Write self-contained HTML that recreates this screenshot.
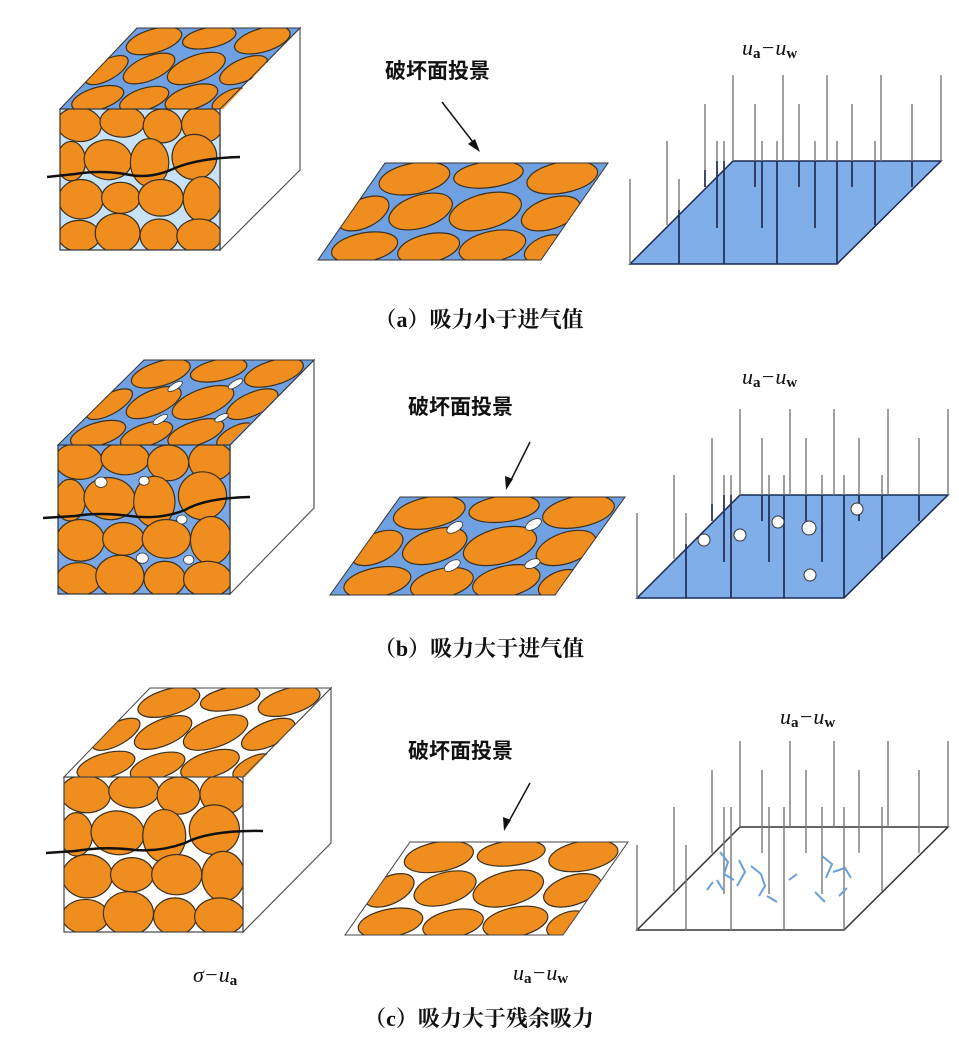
<!DOCTYPE html>
<html><head><meta charset="utf-8">
<style>
html,body{margin:0;padding:0;background:#fff;}
svg{display:block;}
.cap{font-family:"Liberation Serif","Noto Serif CJK SC",serif;font-weight:bold;font-size:22px;fill:#111;}
.lbl{font-family:"Liberation Sans","Noto Sans CJK SC",sans-serif;font-weight:bold;font-size:21px;fill:#111;}
.u{font-family:"Liberation Serif",serif;font-style:italic;font-size:22px;fill:#111;}
.sub{font-family:"Liberation Serif",serif;font-weight:bold;font-style:normal;font-size:15px;}
</style></head>
<body>
<svg width="959" height="1040" viewBox="0 0 959 1040" xmlns="http://www.w3.org/2000/svg">
<defs>
 <g id="gr" fill="#ef8e1e" stroke="#3a3020" stroke-width="1.2">
  <ellipse vector-effect="non-scaling-stroke" cx="12" cy="11" rx="14" ry="12" transform="rotate(10 12 11)"/>
  <ellipse vector-effect="non-scaling-stroke" cx="39" cy="9" rx="14" ry="11"/>
  <ellipse vector-effect="non-scaling-stroke" cx="64" cy="12" rx="12" ry="12"/>
  <ellipse vector-effect="non-scaling-stroke" cx="89" cy="11" rx="13" ry="13" transform="rotate(-15 89 11)"/>
  <ellipse vector-effect="non-scaling-stroke" cx="7" cy="37" rx="9" ry="14"/>
  <ellipse vector-effect="non-scaling-stroke" cx="30" cy="36" rx="15" ry="14" transform="rotate(20 30 36)"/>
  <ellipse vector-effect="non-scaling-stroke" cx="56" cy="38" rx="12" ry="17"/>
  <ellipse vector-effect="non-scaling-stroke" cx="84" cy="34" rx="14" ry="16"/>
  <ellipse vector-effect="non-scaling-stroke" cx="13" cy="64" rx="14" ry="14"/>
  <ellipse vector-effect="non-scaling-stroke" cx="38" cy="63" rx="12" ry="11"/>
  <ellipse vector-effect="non-scaling-stroke" cx="63" cy="63" rx="14" ry="13"/>
  <ellipse vector-effect="non-scaling-stroke" cx="89" cy="64" rx="12" ry="16"/>
  <ellipse vector-effect="non-scaling-stroke" cx="12" cy="90" rx="13" ry="11"/>
  <ellipse vector-effect="non-scaling-stroke" cx="36" cy="88" rx="14" ry="14"/>
  <ellipse vector-effect="non-scaling-stroke" cx="62" cy="90" rx="12" ry="12"/>
  <ellipse vector-effect="non-scaling-stroke" cx="87" cy="90" rx="14" ry="12"/>
 </g>
 <g id="gt" fill="#ef8e1e" stroke="#3a3020" stroke-width="1.2">
  <ellipse vector-effect="non-scaling-stroke" cx="18" cy="16" rx="15" ry="17"/>
  <ellipse vector-effect="non-scaling-stroke" cx="50" cy="12" rx="15" ry="14"/>
  <ellipse vector-effect="non-scaling-stroke" cx="84" cy="15" rx="15" ry="17"/>
  <ellipse vector-effect="non-scaling-stroke" cx="6" cy="52" rx="10" ry="18"/>
  <ellipse vector-effect="non-scaling-stroke" cx="31" cy="50" rx="13" ry="19"/>
  <ellipse vector-effect="non-scaling-stroke" cx="60" cy="50" rx="15" ry="20"/>
  <ellipse vector-effect="non-scaling-stroke" cx="90" cy="52" rx="12" ry="18"/>
  <ellipse vector-effect="non-scaling-stroke" cx="17" cy="87" rx="14" ry="16"/>
  <ellipse vector-effect="non-scaling-stroke" cx="46" cy="88" rx="13" ry="16"/>
  <ellipse vector-effect="non-scaling-stroke" cx="74" cy="86" rx="14" ry="17"/>
  <ellipse vector-effect="non-scaling-stroke" cx="98" cy="88" rx="8" ry="14"/>
 </g>
 <g id="holes" fill="#fff" stroke="#333" stroke-width="0.8">
  <circle vector-effect="non-scaling-stroke" cx="25" cy="25" r="3.5"/>
  <circle vector-effect="non-scaling-stroke" cx="72" cy="50" r="3"/>
  <circle vector-effect="non-scaling-stroke" cx="49" cy="76" r="3.5"/>
  <circle vector-effect="non-scaling-stroke" cx="76" cy="77" r="3"/>
  <circle vector-effect="non-scaling-stroke" cx="50" cy="24" r="3"/>
 </g>
 <g id="holest" fill="#fff" stroke="#333" stroke-width="0.8">
  <ellipse vector-effect="non-scaling-stroke" cx="34" cy="31" rx="3" ry="6"/>
  <ellipse vector-effect="non-scaling-stroke" cx="68" cy="28" rx="3" ry="6"/>
  <ellipse vector-effect="non-scaling-stroke" cx="45" cy="70" rx="3" ry="6"/>
  <ellipse vector-effect="non-scaling-stroke" cx="80" cy="68" rx="3" ry="5"/>
 </g>
 <clipPath id="sq"><rect x="0" y="0" width="100" height="100"/></clipPath>
 <g id="lines">
  <g stroke="#777" stroke-width="1.4">
   <line x1="630" y1="179" x2="630" y2="264"/><line x1="667" y1="141" x2="667" y2="225"/>
   <line x1="679" y1="179" x2="679" y2="264"/><line x1="705" y1="104" x2="705" y2="187"/>
   <line x1="717" y1="141" x2="717" y2="228"/><line x1="724" y1="141" x2="724" y2="264"/>
   <line x1="733" y1="75" x2="733" y2="161"/><line x1="755" y1="104" x2="755" y2="187"/>
   <line x1="762" y1="141" x2="762" y2="228"/><line x1="777" y1="141" x2="777" y2="264"/>
   <line x1="783" y1="75" x2="783" y2="161"/><line x1="799" y1="104" x2="799" y2="187"/>
   <line x1="815" y1="141" x2="815" y2="228"/><line x1="827" y1="75" x2="827" y2="161"/>
   <line x1="837" y1="141" x2="837" y2="264"/><line x1="852" y1="104" x2="852" y2="187"/>
   <line x1="875" y1="141" x2="875" y2="225"/><line x1="881" y1="75" x2="881" y2="161"/>
   <line x1="912" y1="104" x2="912" y2="187"/><line x1="941" y1="75" x2="941" y2="161"/>
  </g>
 </g>
 <g id="onplane" stroke="#1a2a55" stroke-width="1.6">
   <line x1="679" y1="210" x2="679" y2="264"/><line x1="705" y1="170" x2="705" y2="187"/>
   <line x1="717" y1="161" x2="717" y2="228"/><line x1="724" y1="161" x2="724" y2="264"/>
   <line x1="755" y1="161" x2="755" y2="187"/><line x1="762" y1="161" x2="762" y2="228"/>
   <line x1="777" y1="161" x2="777" y2="264"/><line x1="799" y1="161" x2="799" y2="187"/>
   <line x1="815" y1="161" x2="815" y2="228"/><line x1="837" y1="161" x2="837" y2="264"/>
   <line x1="852" y1="161" x2="852" y2="187"/><line x1="875" y1="161" x2="875" y2="225"/>
   <line x1="912" y1="161" x2="912" y2="187"/>
 </g>
</defs>

<!-- ===== Row A ===== -->
<polygon points="220,109 300,28 300,170 220,250" fill="#fff" stroke="#555" stroke-width="1.2"/>
<polygon points="137,28 300,28 220,109 60,109" fill="#6fa0e2"/>
<g transform="matrix(1.63,0,-0.77,0.81,137,28)"><g clip-path="url(#sq)"><use href="#gt"/></g></g>
<polygon points="137,28 300,28 220,109 60,109" fill="none" stroke="#333" stroke-width="1"/>
<rect x="60" y="109" width="160" height="141" fill="#c7e2f6"/>
<g transform="matrix(1.60,0,0,1.41,60,109)"><g clip-path="url(#sq)"><use href="#gr"/></g></g>
<rect x="60" y="109" width="160" height="141" fill="none" stroke="#333" stroke-width="1.2"/>
<path d="M47,177 L75,174 Q100,170 125,174 Q150,180 175,168 Q200,158 240,157" fill="none" stroke="#111" stroke-width="2.5"/>

<polygon points="385,163 608,163 541,260 318,260" fill="#6fa0e2"/>
<g transform="matrix(2.23,0,-0.67,0.97,385,163)"><g clip-path="url(#sq)"><use href="#gt"/></g></g>
<polygon points="385,163 608,163 541,260 318,260" fill="none" stroke="#333" stroke-width="1"/>
<text x="385" y="78" class="lbl">破坏面投景</text>
<line x1="442" y1="102" x2="476" y2="146" stroke="#111" stroke-width="1.5"/>
<polygon points="480,152 468,144 475,139" fill="#111"/>

<polygon points="733,161 941,161 837,264 630,264" fill="#80aee9" stroke="#1a2a55" stroke-width="1.5"/>
<use href="#lines"/><use href="#onplane"/>
<text x="742" y="55" class="u">u<tspan class="sub" dy="3">a</tspan><tspan dy="-3">−u</tspan><tspan class="sub" dy="3">w</tspan></text>
<text x="479" y="327" text-anchor="middle" class="cap">（a）吸力小于进气值</text>

<!-- ===== Row B ===== -->
<polygon points="230,445 314,360 314,508 230,594" fill="#fff" stroke="#555" stroke-width="1.2"/>
<polygon points="144,360 314,360 230,445 58,445" fill="#6fa0e2"/>
<g transform="matrix(1.70,0,-0.86,0.85,144,360)"><g clip-path="url(#sq)"><use href="#gt"/><use href="#holest"/></g></g>
<polygon points="144,360 314,360 230,445 58,445" fill="none" stroke="#333" stroke-width="1"/>
<rect x="58" y="445" width="172" height="149" fill="#7aa8e6"/>
<g transform="matrix(1.72,0,0,1.49,58,445)"><g clip-path="url(#sq)"><use href="#gr"/><use href="#holes"/></g></g>
<rect x="58" y="445" width="172" height="149" fill="none" stroke="#333" stroke-width="1.2"/>
<path d="M43,518 L75,516 Q100,512 130,516 Q160,520 185,510 Q205,498 250,497" fill="none" stroke="#111" stroke-width="2.5"/>

<polygon points="400,497 625,497 555,595 330,595" fill="#6fa0e2"/>
<g transform="matrix(2.25,0,-0.7,0.98,400,497)"><g clip-path="url(#sq)"><use href="#gt"/><use href="#holest"/></g></g>
<polygon points="400,497 625,497 555,595 330,595" fill="none" stroke="#333" stroke-width="1"/>
<text x="408" y="414" class="lbl">破坏面投景</text>
<line x1="530" y1="442" x2="510" y2="482" stroke="#111" stroke-width="1.5"/>
<polygon points="506,490 505,476 513,479" fill="#111"/>

<g transform="translate(7,334)">
<polygon points="733,161 941,161 837,264 630,264" fill="#80aee9" stroke="#1a2a55" stroke-width="1.5"/>
<use href="#lines"/><use href="#onplane"/>
<g fill="#fff" stroke="#333" stroke-width="1">
 <circle cx="697" cy="206" r="6"/><circle cx="733" cy="201" r="6"/><circle cx="771" cy="188" r="6"/>
 <circle cx="802" cy="194" r="7"/><circle cx="850" cy="175" r="6"/><circle cx="803" cy="241" r="6"/>
</g>
</g>
<text x="742" y="384" class="u">u<tspan class="sub" dy="3">a</tspan><tspan dy="-3">−u</tspan><tspan class="sub" dy="3">w</tspan></text>
<text x="479" y="656" text-anchor="middle" class="cap">（b）吸力大于进气值</text>

<!-- ===== Row C ===== -->
<polygon points="243,777 331,688 331,843 243,932" fill="#fff" stroke="#555" stroke-width="1.2"/>
<polygon points="150,688 331,688 243,777 64,777" fill="#fff"/>
<g transform="matrix(1.81,0,-0.86,0.89,150,688)"><g clip-path="url(#sq)"><use href="#gt"/></g></g>
<polygon points="150,688 331,688 243,777 64,777" fill="none" stroke="#444" stroke-width="1"/>
<rect x="64" y="777" width="179" height="155" fill="#fff"/>
<g transform="matrix(1.79,0,0,1.55,64,777)"><g clip-path="url(#sq)"><use href="#gr"/></g></g>
<rect x="64" y="777" width="179" height="155" fill="none" stroke="#444" stroke-width="1.2"/>
<path d="M46,853 L75,851 Q105,846 135,850 Q160,852 185,843 Q210,830 263,831" fill="none" stroke="#111" stroke-width="2.5"/>

<polygon points="410,842 628,842 563,935 345,935" fill="#fff"/>
<g transform="matrix(2.18,0,-0.65,0.93,410,842)"><g clip-path="url(#sq)"><use href="#gt"/></g></g>
<polygon points="410,842 628,842 563,935 345,935" fill="none" stroke="#444" stroke-width="1"/>
<text x="408" y="758" class="lbl">破坏面投景</text>
<line x1="530" y1="783" x2="508" y2="823" stroke="#111" stroke-width="1.5"/>
<polygon points="504,831 503,817 511,820" fill="#111"/>

<g transform="translate(7,666)">
<polygon points="733,161 941,161 837,264 630,264" fill="#fff" stroke="#333" stroke-width="1.5"/>
<use href="#lines"/>
<g stroke="#6aa0d8" stroke-width="2" fill="none">
 <path d="M713,186 l8,10 l-4,12 l10,6 M732,194 l6,12 l-8,14 M744,200 l10,8 l4,12 l-6,10 M710,214 l6,10 M760,230 l10,6 M782,214 l8,-6 M815,190 l10,8 l-6,14 M826,206 l12,-4 l6,10 M808,226 l10,10 M832,230 l8,-8 M700,224 l6,-8"/>
</g>
</g>
<text x="780" y="724" class="u">u<tspan class="sub" dy="3">a</tspan><tspan dy="-3">−u</tspan><tspan class="sub" dy="3">w</tspan></text>
<text x="193" y="982" class="u">σ−u<tspan class="sub" dy="3">a</tspan></text>
<text x="513" y="980" class="u">u<tspan class="sub" dy="3">a</tspan><tspan dy="-3">−u</tspan><tspan class="sub" dy="3">w</tspan></text>
<text x="479" y="1026" text-anchor="middle" class="cap">（c）吸力大于残余吸力</text>
</svg>
</body></html>
